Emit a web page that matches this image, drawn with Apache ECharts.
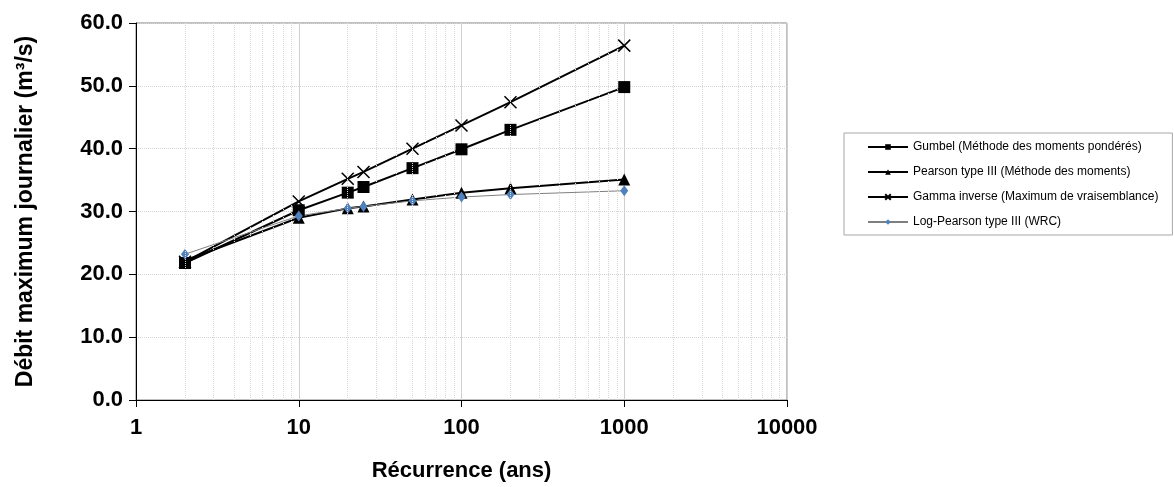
<!DOCTYPE html>
<html lang="fr">
<head>
  <meta charset="UTF-8">
  <title>Débit maximum journalier - récurrence</title>
  <script src="https://cdn.jsdelivr.net/npm/echarts@6/dist/echarts.min.js"></script>
  <style>
    html, body { margin: 0; padding: 0; background: #fff; }
    #chart { width: 1174px; height: 487px; }
  </style>
</head>
<body>
  <div id="chart"></div>
  <script>
    // périodes de retour (ans)
    const recurrence = [2, 10, 20, 25, 50, 100, 200, 1000];

    const gumbel      = [21.8, 30.2, 33.0, 33.9, 36.9, 39.9, 43.0, 49.8];
    const pearson3    = [22.2, 29.0, 30.5, 30.8, 31.9, 33.0, 33.7, 35.1];
    const gammaInv    = [22.0, 31.6, 35.2, 36.3, 40.0, 43.7, 47.4, 56.4];
    const logPearson3 = [23.2, 29.3, 30.5, 30.8, 31.7, 32.3, 32.7, 33.3];

    const seriesNames = [
      'Gumbel (Méthode des moments pondérés)',
      'Pearson type III (Méthode des moments)',
      'Gamma inverse (Maximum de vraisemblance)',
      'Log-Pearson type III (WRC)'
    ];

    // lignes secondaires de la grille log (2..9 de chaque décade)
    const minorGrid = [2, 3, 4, 5, 6, 7, 8, 9, 20, 30, 40, 50, 60, 70, 80, 90,
                       200, 300, 400, 500, 600, 700, 800, 900,
                       2000, 3000, 4000, 5000, 6000, 7000, 8000, 9000];

    function pairs(vals) {
      return recurrence.map((x, i) => [x, vals[i]]);
    }

    const font = 'Liberation Sans, Arial, sans-serif';
    const chart = echarts.init(document.getElementById('chart'));

    chart.setOption({
      animation: false,
      textStyle: { fontFamily: font },
      grid: {
        left: 136, right: 387, top: 23, bottom: 86,
        show: true, borderColor: '#808080', borderWidth: 1
      },
      legend: {
        data: seriesNames,
        orient: 'vertical',
        left: 844, top: 133,
        padding: [8, 14, 7, 23],
        itemGap: 13,
        itemWidth: 40,
        itemHeight: 7,
        borderColor: '#a6a6a6',
        borderWidth: 1,
        textStyle: { fontSize: 12, color: '#000', fontFamily: font }
      },
      xAxis: {
        type: 'log',
        logBase: 10,
        min: 1,
        max: 10000,
        name: 'Récurrence (ans)',
        nameLocation: 'middle',
        nameGap: 60,
        nameTextStyle: { fontSize: 22, fontWeight: 'bold', color: '#000', fontFamily: font },
        axisLine: { lineStyle: { color: '#000', width: 1 } },
        axisTick: { show: true, length: 7, lineStyle: { color: '#000' } },
        axisLabel: {
          margin: 17, fontSize: 22, fontWeight: 'bold', color: '#000',
          formatter: v => String(Math.round(v))
        },
        splitLine: { show: true, lineStyle: { color: '#cfcfcf', width: 1 } }
      },
      yAxis: {
        type: 'value',
        min: 0, max: 60, interval: 10,
        name: 'Débit maximum journalier (m³/s)',
        nameLocation: 'middle',
        nameGap: 99,
        nameTextStyle: { fontSize: 23, fontWeight: 'bold', color: '#000', fontFamily: font },
        axisLine: { show: true, lineStyle: { color: '#000', width: 1 } },
        axisTick: { show: true, length: 7, lineStyle: { color: '#000' } },
        axisLabel: {
          margin: 13, fontSize: 22, fontWeight: 'bold', color: '#000',
          formatter: v => v.toFixed(1)
        },
        splitLine: { show: true, lineStyle: { color: '#d4d4d4', type: 'dotted', width: 1 } }
      },
      series: [
        {
          name: 'grille',
          type: 'line',
          data: [],
          silent: true,
          z: 1,
          markLine: {
            silent: true,
            symbol: 'none',
            label: { show: false },
            lineStyle: { color: '#d9d9d9', type: 'dotted', width: 1 },
            data: minorGrid.map(v => ({ xAxis: v }))
          }
        },
        {
          name: seriesNames[0],
          type: 'line',
          data: pairs(gumbel),
          symbol: 'rect',
          symbolSize: 12,
          lineStyle: { color: '#000', width: 2 },
          itemStyle: { color: '#000' }
        },
        {
          name: seriesNames[1],
          type: 'line',
          data: pairs(pearson3),
          symbol: 'triangle',
          symbolSize: 12,
          lineStyle: { color: '#000', width: 2 },
          itemStyle: { color: '#000' }
        },
        {
          name: seriesNames[2],
          type: 'line',
          data: pairs(gammaInv),
          symbol: 'path://M0,0L10,10M10,0L0,10',
          symbolSize: 12,
          lineStyle: { color: '#000', width: 2 },
          itemStyle: { color: 'none', borderColor: '#000', borderWidth: 1.5 }
        },
        {
          name: seriesNames[3],
          type: 'line',
          data: pairs(logPearson3),
          symbol: 'diamond',
          symbolSize: [8, 11],
          lineStyle: { color: '#7f7f7f', width: 1 },
          itemStyle: { color: '#4f81bd' }
        }
      ]
    });
  </script>
</body>
</html>
